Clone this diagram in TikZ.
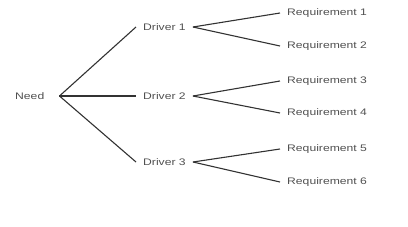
\documentclass[tikz,border=0pt]{standalone}
\usepackage{fontspec}
\setmainfont{Liberation Sans}[FakeStretch=1.28]
\usepackage{xcolor}
\definecolor{textgray}{RGB}{80, 80, 80}
\definecolor{linegray}{RGB}{50, 50, 50}

\begin{document}
\begin{tikzpicture}[x=1pt, y=-1pt,
    lbl/.style={anchor=west, inner xsep=7pt, inner ysep=2pt, text=textgray, font=\fontsize{9.5}{11}\selectfont},
    branch/.style={draw=linegray, line width=1.1pt}]
  \useasboundingbox (0,0) rectangle (408,226);

  % ===== 需求 =====
  \node[lbl, inner xsep=15pt] (need) at (0,96) {Need};

  % ===== 驱动因素 =====
  \node[lbl] (d1) at (136,27) {Driver 1};
  \node[lbl] (d2) at (136,96) {Driver 2};
  \node[lbl] (d3) at (136,162) {Driver 3};

  % ===== 要求 =====
  \node[lbl] (r1) at (280,13) {Requirement 1};
  \node[lbl] (r2) at (280,46) {Requirement 2};
  \node[lbl] (r3) at (280,81) {Requirement 3};
  \node[lbl] (r4) at (280,113) {Requirement 4};
  \node[lbl] (r5) at (280,149) {Requirement 5};
  \node[lbl] (r6) at (280,182) {Requirement 6};

  % 分支
  \foreach \d in {d1, d2, d3} {
    \draw[branch] (need.east) -- (\d.west);
  }
  \draw[branch] (d1.east) -- (r1.west);
  \draw[branch] (d1.east) -- (r2.west);
  \draw[branch] (d2.east) -- (r3.west);
  \draw[branch] (d2.east) -- (r4.west);
  \draw[branch] (d3.east) -- (r5.west);
  \draw[branch] (d3.east) -- (r6.west);
\end{tikzpicture}
\end{document}
